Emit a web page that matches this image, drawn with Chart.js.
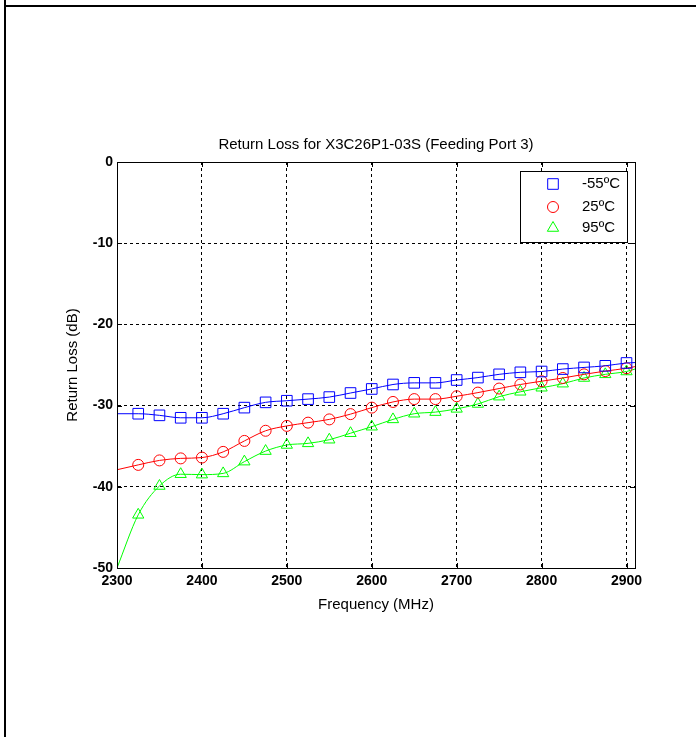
<!DOCTYPE html>
<html>
<head>
<meta charset="utf-8">
<script src="https://cdn.jsdelivr.net/npm/chart.js@4/dist/chart.umd.min.js"></script>
<style>
  html, body { margin: 0; padding: 0; background: #fff; }
  #wrap { position: relative; width: 696px; height: 737px; overflow: hidden; }
  #c { position: absolute; left: 0; top: 0; }
  .frameTop { position: absolute; left: 4px; top: 5px; width: 692px; height: 2px; background: #000; }
  .frameLeft { position: absolute; left: 4px; top: 0; width: 2px; height: 737px; background: #000; }
</style>
</head>
<body>
<div id="wrap">
  <canvas id="c" width="696" height="737"></canvas>
  <div class="frameTop"></div>
  <div class="frameLeft"></div>
</div>
<script>
const chartTitle = 'Return Loss for X3C26P1-03S (Feeding Port 3)';
const xTitle = 'Frequency (MHz)';
const yTitle = 'Return Loss (dB)';
const seriesLabels = ['-55ºC', '25ºC', '95ºC'];

const freq = [2300, 2325, 2350, 2375, 2400, 2425, 2450, 2475, 2500, 2525, 2550, 2575, 2600,
              2625, 2650, 2675, 2700, 2725, 2750, 2775, 2800, 2825, 2850, 2875, 2900, 2910];
const lossM55 = [-31.0, -31.0, -31.2, -31.5, -31.5, -31.0, -30.25, -29.6, -29.4, -29.2, -28.95, -28.45, -27.95,
                 -27.4, -27.2, -27.2, -26.85, -26.55, -26.15, -25.9, -25.8, -25.5, -25.3, -25.1, -24.75, -24.7];
const loss25 = [-37.9, -37.3, -36.75, -36.5, -36.4, -35.7, -34.35, -33.1, -32.5, -32.1, -31.7, -31.05, -30.25,
                -29.55, -29.2, -29.2, -28.85, -28.4, -27.9, -27.4, -27.0, -26.6, -26.15, -25.75, -25.4, -25.2];
const loss95 = [-50.0, -43.45, -39.9, -38.45, -38.5, -38.35, -36.9, -35.6, -34.85, -34.65, -34.2, -33.4, -32.6,
                -31.7, -31.0, -30.8, -30.4, -29.8, -28.9, -28.3, -27.8, -27.3, -26.6, -26.15, -25.8, -25.5];
const xTicks = [2300, 2400, 2500, 2600, 2700, 2800, 2900];
const yTicks = [0, -10, -20, -30, -40, -50];
const xMin = 2300, xMax = 2910, yMin = -50, yMax = 0;

const colors = ['#0000ff', '#ff0000', '#00ff00'];
const styles = ['rect', 'circle', 'triangle'];
const radii = [7.5, 5.5, 6.5];
const seriesValues = [lossM55, loss25, loss95];

function markerRadius(r) {
  return function (ctx) {
    const x = ctx.raw && ctx.raw.x;
    return (x > xMin && x <= 2900) ? r : 0;
  };
}

const datasets = seriesValues.map((vals, i) => ({
  label: seriesLabels[i],
  data: freq.map((f, j) => ({ x: f, y: vals[j] })),
  borderColor: colors[i],
  borderWidth: 1,
  backgroundColor: 'rgba(0,0,0,0)',
  pointStyle: styles[i],
  pointRadius: markerRadius(radii[i]),
  pointHoverRadius: markerRadius(radii[i]),
  pointBorderColor: colors[i],
  pointBackgroundColor: 'rgba(0,0,0,0)',
  pointBorderWidth: 1,
  cubicInterpolationMode: 'monotone',
  fill: false
}));

const FONT = '"Liberation Sans", Arial, sans-serif';

const decor = {
  id: 'decor',
  afterDraw(chart) {
    const ctx = chart.ctx;
    const a = chart.chartArea;
    const xs = chart.scales.x, ys = chart.scales.y;
    ctx.save();
    ctx.strokeStyle = '#000';
    ctx.lineWidth = 1;
    ctx.setLineDash([]);
    ctx.strokeRect(Math.round(a.left) + 0.5, Math.round(a.top) + 0.5,
                   Math.round(a.right - a.left), Math.round(a.bottom - a.top));
    ctx.beginPath();
    xTicks.forEach(v => {
      const px = Math.round(xs.getPixelForValue(v)) + 0.5;
      ctx.moveTo(px, a.bottom); ctx.lineTo(px, a.bottom - 5);
      ctx.moveTo(px, a.top); ctx.lineTo(px, a.top + 5);
    });
    yTicks.forEach(v => {
      const py = Math.round(ys.getPixelForValue(v)) + 0.5;
      ctx.moveTo(a.left, py); ctx.lineTo(a.left + 5, py);
      ctx.moveTo(a.right, py); ctx.lineTo(a.right - 5, py);
    });
    ctx.stroke();
    // title
    ctx.fillStyle = '#000';
    ctx.font = '15px ' + FONT;
    ctx.textAlign = 'center';
    ctx.textBaseline = 'middle';
    ctx.fillText(chartTitle, (a.left + a.right) / 2, 144.5);
    // legend
    const lx = 520, ly = 171, lw = 107, lh = 71;
    ctx.fillStyle = '#fff';
    ctx.fillRect(lx, ly, lw, lh);
    ctx.strokeStyle = '#000';
    ctx.lineWidth = 1;
    ctx.strokeRect(lx + 0.5, ly + 0.5, lw, lh);
    const rows = [184, 207, 228];
    seriesLabels.forEach((lab, i) => {
      ctx.strokeStyle = colors[i];
      ctx.fillStyle = 'rgba(0,0,0,0)';
      ctx.lineWidth = 1;
      Chart.helpers.drawPoint(ctx, {
        pointStyle: styles[i], radius: radii[i], borderWidth: 1, rotation: 0
      }, 553, rows[i]);
      ctx.fillStyle = '#000';
      ctx.font = '15px ' + FONT;
      ctx.textAlign = 'left';
      ctx.textBaseline = 'middle';
      ctx.fillText(lab, 582, rows[i]);
    });
    ctx.restore();
  }
};

new Chart(document.getElementById('c'), {
  type: 'line',
  data: { datasets },
  plugins: [decor],
  options: {
    responsive: false,
    animation: false,
    events: [],
    layout: { padding: { left: 64, top: 162, right: 61, bottom: 122 } },
    plugins: { legend: { display: false }, title: { display: false }, tooltip: { enabled: false } },
    scales: {
      x: {
        type: 'linear',
        min: xMin, max: xMax,
        afterBuildTicks: s => { s.ticks = xTicks.map(v => ({ value: v })); },
        afterFit: s => { s.height = 47; },
        grid: { color: '#000', lineWidth: 1, drawTicks: false },
        border: { display: true, color: '#000', width: 1, dash: [3, 3] },
        ticks: { color: '#000', padding: 5, font: { family: FONT, size: 14, weight: 'bold' }, maxRotation: 0,
                 callback: v => String(v) },
        title: { display: true, text: xTitle, color: '#000', font: { family: FONT, size: 15 }, padding: { top: 0, bottom: 1 } }
      },
      y: {
        type: 'linear',
        min: yMin, max: yMax,
        afterBuildTicks: s => { s.ticks = yTicks.map(v => ({ value: v })); },
        afterFit: s => { s.width = 53; },
        grid: { color: '#000', lineWidth: 1, drawTicks: false },
        border: { display: true, color: '#000', width: 1, dash: [3, 3] },
        ticks: { color: '#000', padding: 4, font: { family: FONT, size: 14, weight: 'bold' },
                 callback: v => String(v) },
        title: { display: true, text: yTitle, color: '#000', font: { family: FONT, size: 15 }, padding: { top: 0, bottom: 1 } }
      }
    }
  }
});
</script>
</body>
</html>
